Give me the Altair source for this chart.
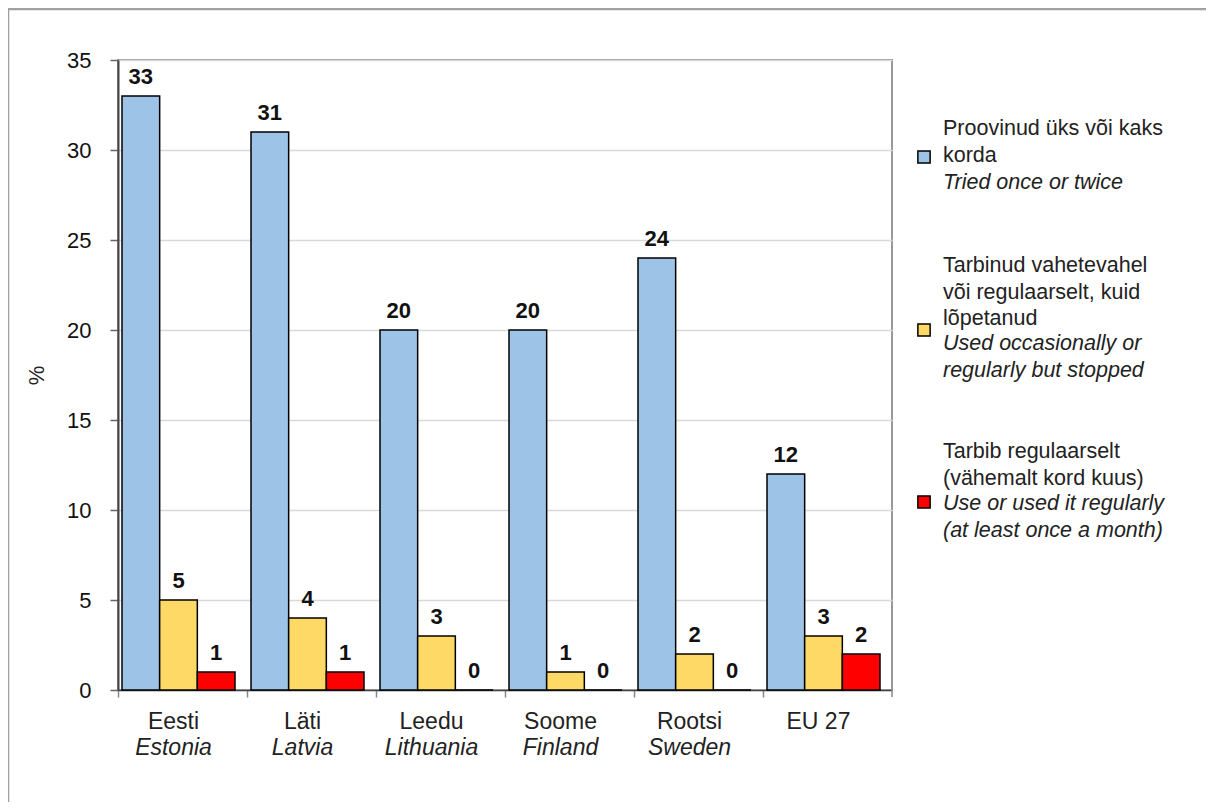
import altair as alt
import pandas as pd

countries_et = ["Eesti", "Läti", "Leedu", "Soome", "Rootsi", "EU 27"]
countries_en = ["Estonia", "Latvia", "Lithuania", "Finland", "Sweden", ""]
series_keys = ["tried", "stopped", "regular"]
tried = [33, 31, 20, 20, 24, 12]
stopped = [5, 4, 3, 1, 2, 3]
regular = [1, 1, 0, 0, 0, 2]
colors = ["#9DC3E6", "#FFD966", "#FF0000"]
legend_et = [
    "Proovinud üks või kaks\nkorda",
    "Tarbinud vahetevahel\nvõi regulaarselt, kuid\nlõpetanud",
    "Tarbib regulaarselt\n(vähemalt kord kuus)",
]
legend_en = [
    "Tried once or twice",
    "Used occasionally or\nregularly but stopped",
    "Use or used it regularly\n(at least once a month)",
]

FONT = "Liberation Sans, Arial, sans-serif"
W, H = 774, 630

rows = []
for i, c in enumerate(countries_et):
    for s, vals in zip(series_keys, [tried, stopped, regular]):
        rows.append({"country": c, "series": s, "value": vals[i]})
df = pd.DataFrame(rows)
labels_df = pd.DataFrame({"country": countries_et, "en": countries_en})

xenc = alt.X(
    "country:N",
    sort=countries_et,
    scale=alt.Scale(domain=countries_et, paddingInner=0, paddingOuter=0),
    axis=alt.Axis(labels=False, title=None, bandPosition=0, tickSize=7,
                  tickColor="#888", tickWidth=1.5, domainColor="#444",
                  domainWidth=1.5, grid=False),
)
xoff = alt.XOffset("series:N", sort=series_keys,
                   scale=alt.Scale(domain=series_keys, range=[4, 117]))
yenc = alt.Y(
    "value:Q",
    scale=alt.Scale(domain=[0, 35], nice=False),
    axis=alt.Axis(values=list(range(0, 36, 5)), title="%", titleFontSize=22,
                  titleFontWeight="normal", titleColor="#222", titlePadding=18,
                  labelFontSize=22, labelColor="#111", labelPadding=19,
                  tickSize=8, tickColor="#666", tickWidth=1.5,
                  domainColor="#444", domainWidth=2,
                  gridColor="#d9d9d9", gridWidth=1.5),
)

bars = alt.Chart(df).mark_bar(stroke="black", strokeWidth=1.5).encode(
    x=xenc, xOffset=xoff, y=yenc,
    color=alt.Color("series:N", scale=alt.Scale(domain=series_keys, range=colors), legend=None),
)

values = alt.Chart(df).mark_text(baseline="alphabetic", dy=-12, fontSize=22,
                                 fontWeight="bold", font=FONT, color="#111").encode(
    x=xenc, xOffset=xoff, y=alt.Y("value:Q"), text=alt.Text("value:Q"),
)

xl1 = alt.Chart(labels_df).mark_text(baseline="alphabetic", fontSize=23, font=FONT,
                                     color="#222", dx=-9).encode(
    x=alt.X("country:N", sort=countries_et), y=alt.value(669), text="country:N")
xl2 = alt.Chart(labels_df).mark_text(baseline="alphabetic", fontSize=23, font=FONT,
                                     fontStyle="italic", color="#222", dx=-9).encode(
    x=alt.X("country:N", sort=countries_et), y=alt.value(695), text="en:N")

end_tick = alt.Chart(pd.DataFrame({"a": [0]})).mark_rule(color="#888", strokeWidth=1.5).encode(
    x=alt.value(W), y=alt.value(H), y2=alt.value(H + 7))

# legend
leg_layers = []
sq_y = [97, 270, 442]
reg_y = [75, 212, 398]
ita_y = [129, 290, 450]
for k in range(3):
    d = pd.DataFrame({"et": [legend_et[k]], "en": [legend_en[k]]})
    leg_layers.append(alt.Chart(d).mark_square(size=150, filled=True, stroke="black",
                                               strokeWidth=1.5, color=colors[k], opacity=1).encode(
        x=alt.value(806), y=alt.value(sq_y[k])))
    leg_layers.append(alt.Chart(d).mark_text(align="left", baseline="alphabetic", fontSize=21.5,
                                             font=FONT, color="#222", lineBreak="\n",
                                             lineHeight=26.5).encode(
        x=alt.value(825), y=alt.value(reg_y[k]), text="et:N"))
    leg_layers.append(alt.Chart(d).mark_text(align="left", baseline="alphabetic", fontSize=21.5,
                                             font=FONT, fontStyle="italic", color="#222",
                                             lineBreak="\n", lineHeight=26.5).encode(
        x=alt.value(825), y=alt.value(ita_y[k]), text="en:N"))

border_df = pd.DataFrame({"a": [0]})
border_left = alt.Chart(border_df).mark_rule(color="#a0a0a0", strokeWidth=2.5).encode(
    x=alt.value(-110), y=alt.value(-51), y2=alt.value(760))
border_top = alt.Chart(border_df).mark_rule(color="#a0a0a0", strokeWidth=2.5).encode(
    x=alt.value(-110), x2=alt.value(1200), y=alt.value(-51))

chart = alt.layer(bars, values, xl1, xl2, end_tick, *leg_layers, border_left, border_top).properties(
    width=W, height=H,
    autosize=alt.AutoSizeParams(type="none"),
    padding={"left": 110, "top": 52, "right": 314, "bottom": 112},
).configure_view(stroke="#999", strokeWidth=2).configure_axis(
    labelFont=FONT, titleFont=FONT
)

chart.save("out.html", embed_options={"renderer": "svg", "actions": False})
